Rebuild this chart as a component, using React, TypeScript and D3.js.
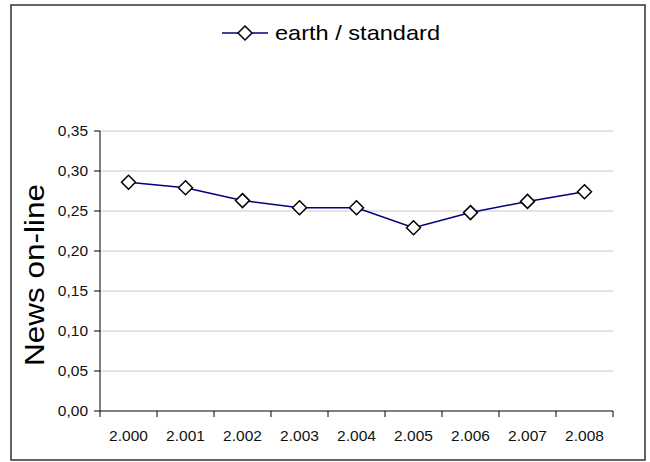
import React from "react";
import * as d3 from "d3";

const categories = ["2.000", "2.001", "2.002", "2.003", "2.004", "2.005", "2.006", "2.007", "2.008"];
const values = [0.286, 0.279, 0.263, 0.254, 0.254, 0.229, 0.248, 0.262, 0.274];
const yTicks = [0, 0.05, 0.1, 0.15, 0.2, 0.25, 0.3, 0.35];
const seriesName = "earth / standard";
const yTitle = "News on-line";

const W = 650, H = 462;
const plot = { left: 100, right: 613, top: 131, bottom: 411 };
const font = "'Liberation Sans', Arial, sans-serif";

export default function App() {
  const x = d3.scaleBand<string>().domain(categories).range([plot.left, plot.right]);
  const y = d3.scaleLinear().domain([0, 0.35]).range([plot.bottom, plot.top]);
  const line = d3.line<number>()
    .x((_, i) => (x(categories[i]) as number) + x.bandwidth() / 2)
    .y((d) => y(d));
  const fmt = (v: number) => v.toFixed(2).replace(".", ",");
  const diamond = (cx: number, cy: number, r: number) =>
    `M${cx},${cy - r}L${cx + r},${cy}L${cx},${cy + r}L${cx - r},${cy}Z`;
  const boundaries = categories.map((c) => x(c) as number).concat([plot.right]);

  return (
    <svg width={W} height={H} style={{ position: "absolute", left: 0, top: 0 }} fontFamily={font}>
      <rect x={0} y={0} width={W} height={H} fill="#fff" />
      <rect x={11} y={5} width={634} height={455} fill="#fff" stroke="#333" strokeWidth={1.5} />
      {yTicks.map((t) => (
        <g key={t}>
          {t > 0 && <line x1={plot.left} x2={plot.right} y1={y(t)} y2={y(t)} stroke="#c8c8c8" strokeWidth={1} />}
          <line x1={plot.left - 6} x2={plot.left} y1={y(t)} y2={y(t)} stroke="#000" strokeWidth={1} />
          <text x={plot.left - 12} y={y(t)} dy="0.35em" textAnchor="end" fontSize={15.5} fill="#111">
            {fmt(t)}
          </text>
        </g>
      ))}
      <line x1={plot.left} x2={plot.left} y1={plot.top} y2={plot.bottom} stroke="#000" strokeWidth={1} />
      <line x1={plot.left} x2={plot.right} y1={plot.bottom} y2={plot.bottom} stroke="#000" strokeWidth={1} />
      {boundaries.map((bx, i) => (
        <line key={i} x1={bx} x2={bx} y1={plot.bottom} y2={plot.bottom + 6} stroke="#000" strokeWidth={1} />
      ))}
      {categories.map((c) => (
        <text key={c} x={(x(c) as number) + x.bandwidth() / 2} y={436} dy="0.35em" textAnchor="middle" fontSize={15.5} fill="#111">
          {c}
        </text>
      ))}
      <path d={line(values) || ""} fill="none" stroke="#000080" strokeWidth={1.5} />
      {values.map((v, i) => (
        <path key={i} d={diamond((x(categories[i]) as number) + x.bandwidth() / 2, y(v), 7)} fill="#fff" stroke="#000" strokeWidth={1.5} />
      ))}
      <text
        transform={`translate(35,${(plot.top + plot.bottom) / 2 + 4}) rotate(-90)`}
        textAnchor="middle"
        dy="0.35em"
        fontSize={27}
        fill="#000"
        textLength={182}
        lengthAdjust="spacingAndGlyphs"
      >
        {yTitle}
      </text>
      <line x1={222} x2={268} y1={33} y2={33} stroke="#000080" strokeWidth={1.5} />
      <path d={diamond(245, 33, 7)} fill="#fff" stroke="#000" strokeWidth={1.5} />
      <text x={275} y={33} dy="0.35em" fontSize={21} fill="#000" textLength={165} lengthAdjust="spacingAndGlyphs">
        {seriesName}
      </text>
    </svg>
  );
}
